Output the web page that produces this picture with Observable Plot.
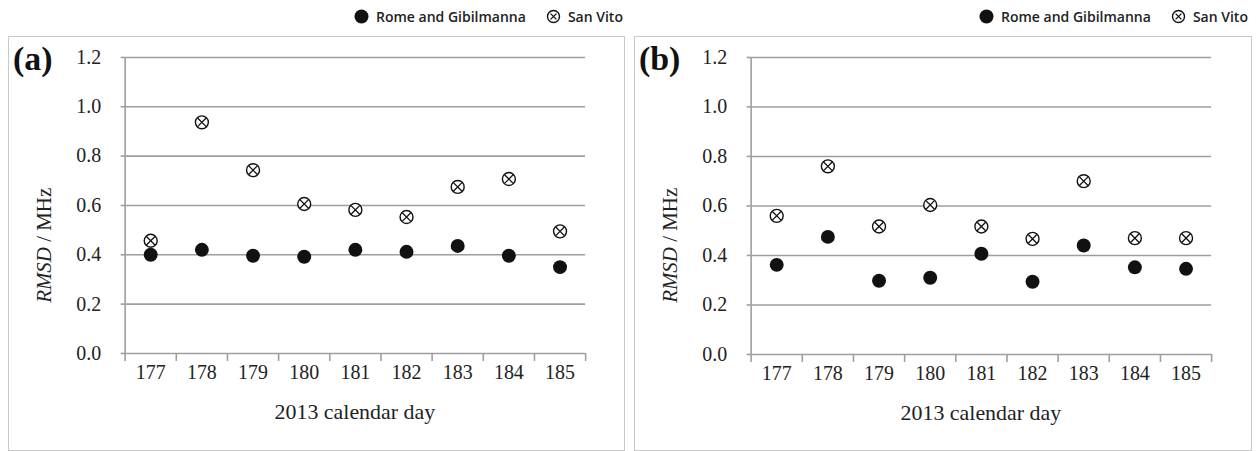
<!DOCTYPE html>
<html><head><meta charset="utf-8">
<script src="https://cdn.jsdelivr.net/npm/d3@7"></script>
<script src="https://cdn.jsdelivr.net/npm/@observablehq/plot@0.6"></script>
<style>
body{margin:0;background:#fff;}
#root{position:relative;width:1260px;height:451px;overflow:hidden;background:#fff;}
.panel{position:absolute;border:1.5px solid #c9c9c9;box-sizing:border-box;}
.panel svg{position:absolute;left:-1.5px;top:-1.5px;overflow:visible;}
.legend{position:absolute;font-family:"Open Sans",sans-serif;font-weight:600;font-size:14px;color:#222;display:flex;align-items:center;white-space:nowrap;}
.legend svg{margin-right:7px;}
</style></head><body><div id="root"></div>
<script>
const days = [177, 178, 179, 180, 181, 182, 183, 184, 185];
const romeA    = [0.400, 0.420, 0.396, 0.392, 0.420, 0.412, 0.436, 0.396, 0.350];
const sanVitoA = [0.457, 0.937, 0.743, 0.606, 0.582, 0.553, 0.675, 0.707, 0.495];
const romeB    = [0.362, 0.475, 0.298, 0.310, 0.407, 0.294, 0.440, 0.352, 0.346];
const sanVitoB = [0.560, 0.760, 0.517, 0.604, 0.517, 0.467, 0.700, 0.470, 0.470];
const yTicks = [0, 0.2, 0.4, 0.6, 0.8, 1.0, 1.2];
const panelLabels = ["(a)", "(b)"];
const seriesNames = ["Rome and Gibilmanna", "San Vito"];
const xLabel = "2013 calendar day";
const yLabelItalic = "RMSD";
const yLabelRest = " / MHz";

const root = document.getElementById("root");
const GRID = "#9e9e9e";
const SERIF = "Liberation Serif";

function makePanel(rome, sv, cfg) {
  const data = days.map((d, i) => ({day: d, rome: rome[i], sv: sv[i]}));
  const bounds = [...days.map(d => d - 0.5), days[days.length - 1] + 0.5];
  const x0 = bounds[0], x1 = bounds[bounds.length - 1];
  const plot = Plot.plot({
    width: cfg.w, height: cfg.h,
    marginLeft: cfg.ml, marginRight: cfg.mr, marginTop: cfg.mt, marginBottom: cfg.mb,
    style: {fontFamily: SERIF, fontSize: "20px", color: "#222", background: "transparent"},
    x: {type: "linear", domain: [x0, x1]},
    y: {domain: [0, 1.2]},
    marks: [
      Plot.ruleY(yTicks, {x1: x0, x2: x1, stroke: GRID, strokeWidth: 1.6}),
      Plot.ruleX([x0], {y1: 0, y2: 1.2, stroke: GRID, strokeWidth: 1.6}),
      Plot.axisY({ticks: yTicks, tickFormat: d => d.toFixed(1), tickSize: 4, tickPadding: 20, stroke: GRID, strokeWidth: 1.6, label: null, fontSize: 20, fontFamily: SERIF}),
      Plot.axisX({ticks: bounds, tickFormat: () => "", tickSize: 8, stroke: GRID, strokeWidth: 1.6, label: null}),
      Plot.axisX({ticks: days, tickFormat: d => String(d), tickSize: 0, tickPadding: 11, label: null, fontSize: 20, fontFamily: SERIF}),
      Plot.dot(data, {x: "day", y: "sv", r: 6.5, stroke: "#111", fill: "white", strokeWidth: 1.4}),
      Plot.dot(data, {x: "day", y: "sv", r: 4.0, symbol: "times", stroke: "#111", strokeWidth: 1.3}),
      Plot.dot(data, {x: "day", y: "rome", r: 7, fill: "#111", stroke: "none"})
    ]
  });
  const svg = d3.select(plot);
  svg.append("text").attr("x", 5).attr("y", cfg.mt + 1).attr("dy", "0.35em").attr("text-anchor", "start")
    .attr("font-family", SERIF).attr("font-weight", "bold").attr("font-size", 34)
    .attr("fill", "#111").text(cfg.label);
  const yl = svg.append("text").attr("transform", `translate(${cfg.ylx},${cfg.yly}) rotate(-90)`)
    .attr("text-anchor", "middle").attr("dy", "0.35em").attr("font-family", SERIF).attr("font-size", 21).attr("fill", "#222");
  yl.append("tspan").attr("font-style", "italic").attr("font-family", SERIF).text(yLabelItalic);
  yl.append("tspan").attr("font-family", SERIF).text(yLabelRest);
  svg.append("text").attr("x", (cfg.ml + cfg.w - cfg.mr) / 2).attr("y", cfg.xly).attr("text-anchor", "middle")
    .attr("font-family", SERIF).attr("font-size", 22)
    .attr("fill", "#222").text(xLabel);

  const div = document.createElement("div");
  div.className = "panel";
  Object.assign(div.style, {left: cfg.left + "px", top: cfg.top + "px", width: cfg.w + "px", height: cfg.h + "px"});
  div.appendChild(plot);
  root.appendChild(div);

  const lg = document.createElement("div");
  lg.className = "legend";
  lg.style.left = cfg.lgx + "px";
  lg.style.top = "7px";
  lg.innerHTML =
    `<svg width="15" height="15"><circle cx="7.5" cy="7.5" r="7" fill="#111"/></svg>` +
    `<span style="margin-right:20px">${seriesNames[0]}</span>` +
    `<svg width="15" height="15"><circle cx="7.5" cy="7.5" r="6" fill="white" stroke="#111" stroke-width="1.4"/>` +
    `<path d="M4.6,4.6L10.4,10.4M10.4,4.6L4.6,10.4" stroke="#111" stroke-width="1.3"/></svg>` +
    `<span>${seriesNames[1]}</span>`;
  root.appendChild(lg);
}

makePanel(romeA, sanVitoA, {left: 8, top: 36, w: 617, h: 415, ml: 117, mr: 38, mt: 21, mb: 97,
  label: panelLabels[0], ylx: 36, yly: 210, xly: 384, lgx: 354});
makePanel(romeB, sanVitoB, {left: 634, top: 36, w: 618, h: 415, ml: 117, mr: 39, mt: 21, mb: 96,
  label: panelLabels[1], ylx: 36, yly: 210, xly: 385, lgx: 979});
</script></body></html>
